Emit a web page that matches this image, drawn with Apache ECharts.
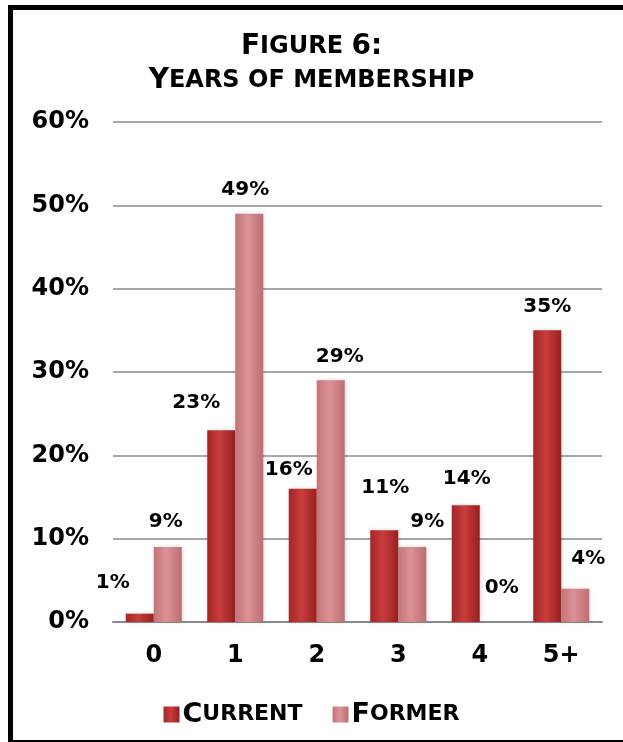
<!DOCTYPE html>
<html>
<head>
<meta charset="utf-8">
<script src="https://cdn.jsdelivr.net/npm/echarts@6/dist/echarts.min.js"></script>
<style>
html,body{margin:0;padding:0;background:#fff;overflow:hidden;}
#chart{width:623px;height:742px;}
</style>
</head>
<body>
<div id="chart"></div>
<script>
// ---- data ----
var categories = ['0', '1', '2', '3', '4', '5+'];
var currentValues = [1, 23, 16, 11, 14, 35];
var formerValues = [9, 49, 29, 9, 0, 4];
var seriesNames = ['Current', 'Former'];
var titleLines = ['Figure 6:', 'Years of membership'];
var yTicks = [0, 10, 20, 30, 40, 50, 60];

// ---- label placement styling (dx, distance above bar top) ----
var currentLabelStyle = [[-27, 31], [-25, 28], [-14, 19], [1, 43], [1, 27], [0, 24]];
var formerLabelStyle = [[-2, 25], [-4, 24], [9, 24], [15, 25], [8, 34], [13, 30]];

var FONT = '"DejaVu Sans", sans-serif';

// small-caps emulation: lowercase letters -> smaller uppercase
function smallCaps(s) {
  var out = '';
  var cur = null, buf = '';
  function flush() {
    if (buf) {
      out += '{' + cur + '|' + buf + '}';
    }
    buf = '';
  }
  for (var i = 0; i < s.length; i++) {
    var ch = s.charAt(i);
    var kind = (ch !== ch.toUpperCase()) ? 'small' : (ch === ' ' ? 'sp' : 'big');
    if (kind !== cur) { flush(); cur = kind; }
    buf += ch.toUpperCase();
  }
  flush();
  return out;
}

function buildData(values, styles) {
  return values.map(function (v, i) {
    return {
      value: v,
      label: { offset: [styles[i][0], -(styles[i][1] - 10)] }
    };
  });
}

var currentColor = new echarts.graphic.LinearGradient(0, 0, 1, 0, [
  { offset: 0, color: '#a32626' },
  { offset: 0.45, color: '#c93c3c' },
  { offset: 1, color: '#962020' }
]);
var formerColor = new echarts.graphic.LinearGradient(0, 0, 1, 0, [
  { offset: 0, color: '#c47478' },
  { offset: 0.45, color: '#dc9296' },
  { offset: 1, color: '#bd6e72' }
]);

var labelCommon = {
  show: true,
  position: 'top',
  distance: 0,
  color: '#000',
  fontFamily: FONT,
  fontWeight: 'bold',
  fontSize: 20,
  formatter: '{c}%'
};

var chart = echarts.init(document.getElementById('chart'));
chart.setOption({
  backgroundColor: '#fff',
  animation: false,
  title: {
    text: titleLines.map(smallCaps).join('\n'),
    left: 'center',
    top: 25,
    textStyle: {
      fontFamily: FONT,
      fontWeight: 'bold',
      color: '#000',
      lineHeight: 34,
      rich: {
        big: { fontFamily: FONT, fontWeight: 'bold', fontSize: 28, color: '#000', lineHeight: 34 },
        small: { fontFamily: FONT, fontWeight: 'bold', fontSize: 24, color: '#000', lineHeight: 34 },
        sp: { fontFamily: FONT, fontWeight: 'bold', fontSize: 24, color: '#000', lineHeight: 34 }
      }
    }
  },
  legend: {
    data: seriesNames,
    bottom: 9,
    left: 'center',
    itemWidth: 16,
    itemHeight: 16,
    itemGap: 30,
    icon: 'rect',
    formatter: function (name) { return smallCaps(name); },
    textStyle: {
      fontFamily: FONT,
      fontWeight: 'bold',
      color: '#000',
      padding: [0, 0, 0, -2],
      rich: {
        big: { fontFamily: FONT, fontWeight: 'bold', fontSize: 27, color: '#000' },
        small: { fontFamily: FONT, fontWeight: 'bold', fontSize: 22, color: '#000' }
      }
    }
  },
  grid: {
    left: 113,
    right: 21,
    top: 122,
    bottom: 120,
    containLabel: false
  },
  xAxis: {
    type: 'category',
    data: categories,
    axisLine: { show: true, lineStyle: { color: '#8a8a8a', width: 2 } },
    axisTick: { show: false },
    axisLabel: {
      color: '#000',
      fontFamily: FONT,
      fontWeight: 'bold',
      fontSize: 24,
      margin: 22
    }
  },
  yAxis: {
    type: 'value',
    min: yTicks[0],
    max: yTicks[yTicks.length - 1],
    interval: yTicks[1] - yTicks[0],
    axisLine: { show: false },
    axisTick: { show: false },
    splitLine: { lineStyle: { color: '#8a8a8a', width: 1.5 } },
    axisLabel: {
      color: '#000',
      fontFamily: FONT,
      fontWeight: 'bold',
      fontSize: 24,
      margin: 24,
      formatter: '{value}%'
    }
  },
  series: [
    {
      name: seriesNames[0],
      type: 'bar',
      data: buildData(currentValues, currentLabelStyle),
      barWidth: 28,
      barGap: '0%',
      itemStyle: { color: currentColor, shadowColor: 'rgba(0,0,0,0.15)', shadowBlur: 4, shadowOffsetX: 1 },
      label: labelCommon
    },
    {
      name: seriesNames[1],
      type: 'bar',
      data: buildData(formerValues, formerLabelStyle),
      barWidth: 28,
      barGap: '0%',
      itemStyle: { color: formerColor, shadowColor: 'rgba(0,0,0,0.15)', shadowBlur: 4, shadowOffsetX: 1 },
      label: labelCommon
    }
  ],
  graphic: [
    { type: 'rect', shape: { x: 8, y: 5, width: 5, height: 737 }, style: { fill: '#000' } },
    { type: 'rect', shape: { x: 8, y: 5, width: 615, height: 5 }, style: { fill: '#000' } },
    { type: 'rect', shape: { x: 8, y: 740, width: 615, height: 2 }, style: { fill: '#000' } }
  ]
});
</script>
</body>
</html>
